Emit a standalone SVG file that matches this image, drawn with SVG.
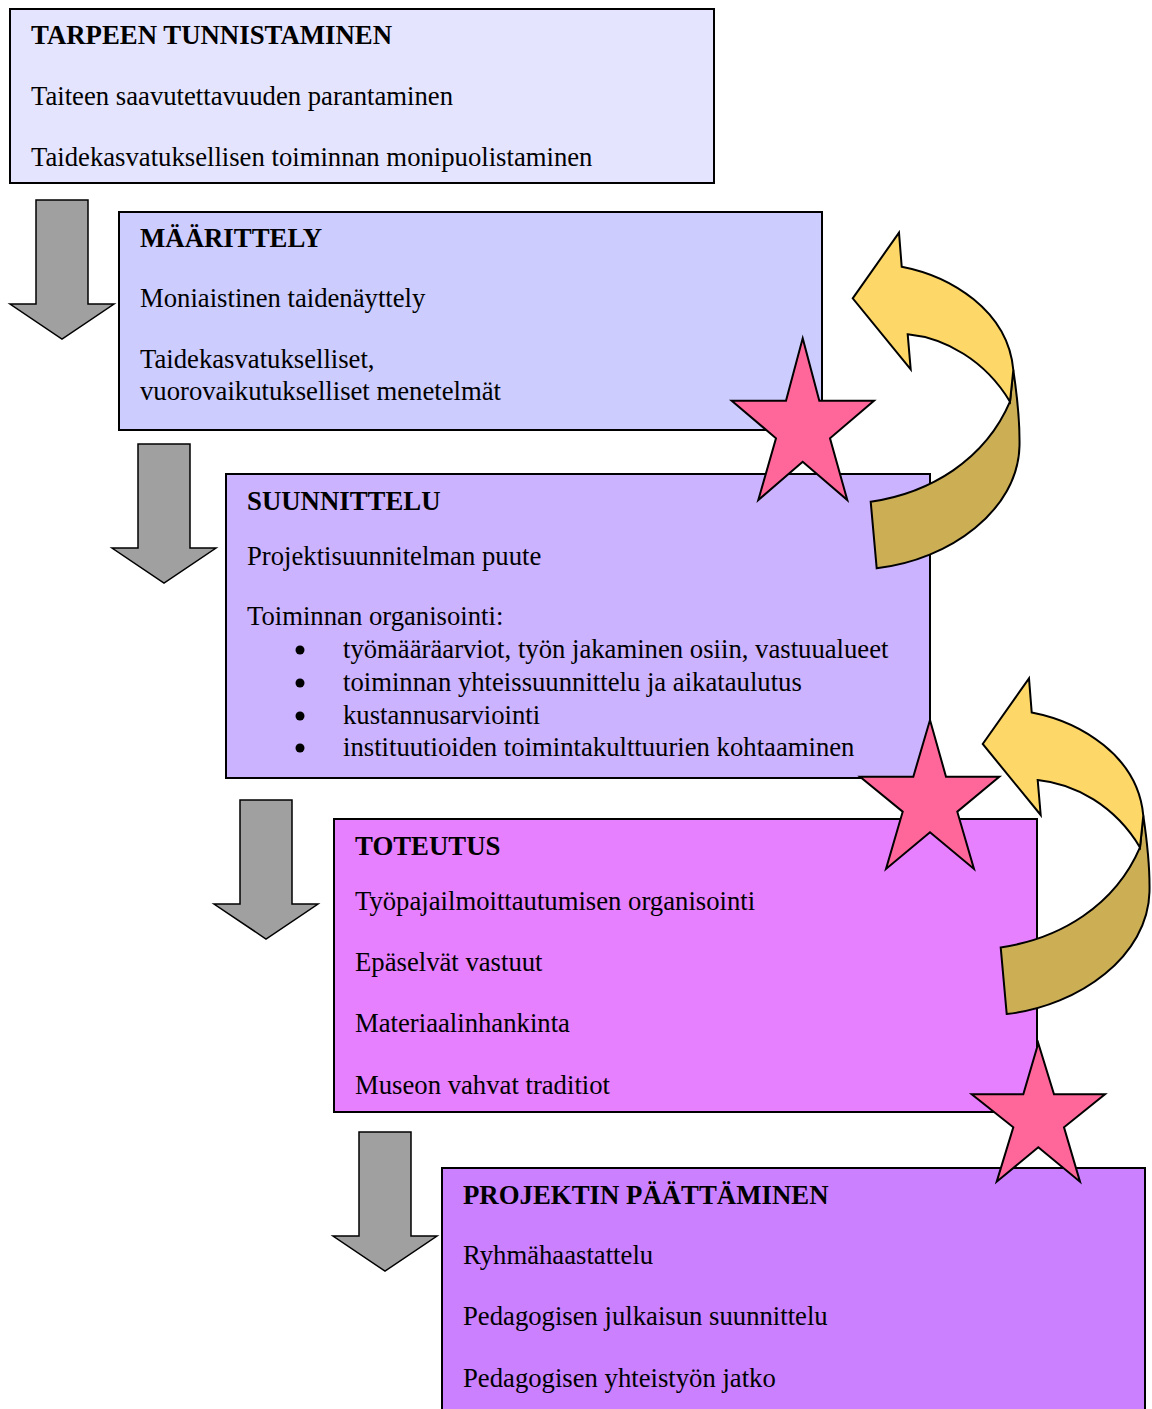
<svg xmlns="http://www.w3.org/2000/svg" xmlns:xlink="http://www.w3.org/1999/xlink" width="1152" height="1409" viewBox="0 0 1152 1409">
  <style>
    .box { stroke: #000; stroke-width: 2; }
    text { font-family: "Liberation Serif", "Times New Roman", serif; font-size: 26.7px; fill: #000; }
    .h { font-weight: bold; font-size: 26.8px; }
    .down { fill: #A0A0A0; stroke: #000; stroke-width: 1.5; stroke-linejoin: miter; }
    .star { fill: #FF6699; stroke: #000; stroke-width: 2; stroke-linejoin: miter; }
    .front { fill: #FDD868; stroke: #000; stroke-width: 2; stroke-linejoin: miter; }
    .back { fill: #CCAE55; stroke: #000; stroke-width: 2; stroke-linejoin: miter; }
  </style>
  <defs>
    <!-- gray down arrow, tip at (52,139) relative to its top-left -->
    <polygon id="downArrow" class="down" points="26,0 78,0 78,104 104,104 52,139 0,104 26,104"/>
    <!-- twisted return arrow -->
    <g id="loopArrow">
      <path class="back" d="M1013.3,370 C1017,395 1020,420 1019.5,446 C1018,510 950,560 876.7,568.3 L870.7,501.7 C930,493 985,460 1010,401.7 Z"/>
      <path class="front" d="M852.7,298.3 L899,232.7 L901.7,266.7 C950,276 1008,310 1013.3,370 L1010,401.7 C985,360 945,338 907.7,334.3 L910.7,369.3 Z"/>
    </g>
  </defs>

  <g id="tarpeen-tunnistaminen">
    <rect class="box" x="10" y="9" width="704" height="174" fill="#E4E4FF"/>
    <text class="h" x="31" y="44">TARPEEN TUNNISTAMINEN</text>
    <text x="31" y="105">Taiteen saavutettavuuden parantaminen</text>
    <text x="31" y="166">Taidekasvatuksellisen toiminnan monipuolistaminen</text>
  </g>

  <g id="maarittely">
    <rect class="box" x="119" y="212" width="703" height="218" fill="#CCCCFF"/>
    <text class="h" x="140" y="247">MÄÄRITTELY</text>
    <text x="140" y="307">Moniaistinen taidenäyttely</text>
    <text x="140" y="368">Taidekasvatukselliset,</text>
    <text x="140" y="400">vuorovaikutukselliset menetelmät</text>
  </g>

  <g id="suunnittelu">
    <rect class="box" x="226" y="474" width="704" height="304" fill="#CCB3FF"/>
    <text class="h" x="247" y="510">SUUNNITTELU</text>
    <text x="247" y="565">Projektisuunnitelman puute</text>
    <text x="247" y="625">Toiminnan organisointi:</text>
    <circle cx="300" cy="650" r="4.5" fill="#000"/>
    <circle cx="300" cy="683" r="4.5" fill="#000"/>
    <circle cx="300" cy="716" r="4.5" fill="#000"/>
    <circle cx="300" cy="748" r="4.5" fill="#000"/>
    <text x="343" y="658">työmääräarviot, työn jakaminen osiin, vastuualueet</text>
    <text x="343" y="691">toiminnan yhteissuunnittelu ja aikataulutus</text>
    <text x="343" y="724">kustannusarviointi</text>
    <text x="343" y="756">instituutioiden toimintakulttuurien kohtaaminen</text>
  </g>

  <g id="toteutus">
    <rect class="box" x="334" y="819" width="703" height="293" fill="#E680FF"/>
    <text class="h" x="355" y="855">TOTEUTUS</text>
    <text x="355" y="910">Työpajailmoittautumisen organisointi</text>
    <text x="355" y="971">Epäselvät vastuut</text>
    <text x="355" y="1032">Materiaalinhankinta</text>
    <text x="355" y="1094">Museon vahvat traditiot</text>
  </g>

  <g id="projektin-paattaminen">
    <rect class="box" x="442" y="1168" width="703" height="260" fill="#CA80FF"/>
    <text class="h" x="463" y="1204">PROJEKTIN PÄÄTTÄMINEN</text>
    <text x="463" y="1264">Ryhmähaastattelu</text>
    <text x="463" y="1325">Pedagogisen julkaisun suunnittelu</text>
    <text x="463" y="1387">Pedagogisen yhteistyön jatko</text>
  </g>

  <g id="connectors">
    <use xlink:href="#downArrow" x="10" y="200"/>
    <use xlink:href="#downArrow" x="112" y="444"/>
    <use xlink:href="#downArrow" x="214" y="800"/>
    <use xlink:href="#downArrow" x="333" y="1132"/>
    <use xlink:href="#loopArrow"/>
    <use xlink:href="#loopArrow" transform="translate(130,445.7)"/>
  </g>

  <g id="stars">
    <polygon class="star" points="802.7,338.3 819.3,400.7 874,400.7 830,438.3 847.3,500 802.7,461.7 758.3,500 776,438.3 731.7,400.7 786,400.7"/>
    <polygon class="star" points="930,720 946,776.7 999.3,776.7 957.3,811.7 974,869 930,832.3 886,869 902.7,811.7 860,776.7 913.3,776.7"/>
    <polygon class="star" points="1038.3,1043.3 1054,1094.3 1105,1094.3 1064,1127.3 1080,1181.7 1038.3,1147.3 996.7,1181.7 1013.3,1127.3 971.7,1094.3 1023.3,1094.3"/>
  </g>
</svg>
